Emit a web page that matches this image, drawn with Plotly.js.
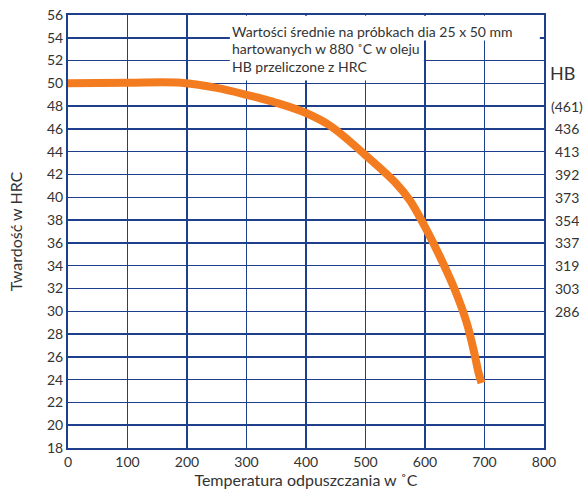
<!DOCTYPE html>
<html><head><meta charset="utf-8">
<script src="https://cdn.plot.ly/plotly-3.0.1.min.js"></script>
<style>html,body{margin:0;padding:0;background:#fff}#chart{width:583px;height:491px}</style>
</head><body><div id="chart"></div>
<script>
const temperature = [0, 100, 190, 250, 300, 350, 400, 440, 500, 550, 575, 600, 625, 650, 670, 683, 690, 695];
const hardnessHRC = [50.0, 50.05, 50.05, 49.6, 49.0, 48.3, 47.4, 46.3, 43.7, 41.3, 39.7, 37.4, 34.8, 31.9, 29.0, 26.3, 24.6, 23.7];
const hbTickHRC = [48, 46, 44, 42, 40, 38, 36, 34, 32, 30];
const hbTickText = ['(461)', '436', '413', '392', '373', '354', '337', '319', '303', '286'];
const noteLines = ['Wartości średnie na próbkach dia 25 x 50 mm', 'hartowanych w 880 ˚C w oleju', 'HB przeliczone z HRC'];

const gridColor = '#1d3f8c';
const textColor = '#333333';
const font = 'Lato, "Open Sans", sans-serif';

const annotations = hbTickHRC.map((v, i) => ({
  x: 1.0477, y: v, xref: 'paper', yref: 'y', text: hbTickText[i], showarrow: false,
  xanchor: 'center', yanchor: 'middle', font: {family: font, size: 14, color: textColor}
}));
annotations.push({x: 1.039, y: 50.95, xref: 'paper', yref: 'y', text: 'HB', showarrow: false,
  xanchor: 'center', yanchor: 'middle', font: {family: font, size: 18, color: textColor}});
noteLines.forEach((t, i) => annotations.push({
  x: 273, y: 54.55 - i * 1.52, xref: 'x', yref: 'y', text: t, showarrow: false,
  xanchor: 'left', yanchor: 'middle', font: {family: font, size: 14, color: textColor}
}));

const data = [{
  x: temperature, y: hardnessHRC, type: 'scatter', mode: 'lines',
  line: {color: '#f47c20', width: 8, shape: 'spline', smoothing: 1},
  hoverinfo: 'skip'
}];

const layout = {
  width: 583, height: 491,
  margin: {l: 68, r: 38.7, t: 14.5, b: 43.3},
  paper_bgcolor: '#fff', plot_bgcolor: '#fff',
  showlegend: false,
  xaxis: {
    range: [0, 800], tickvals: [0,100,200,300,400,500,600,700,800], ticks: '',
    showgrid: true, gridcolor: gridColor, gridwidth: 1.5, zeroline: false,
    showline: true, linecolor: gridColor, linewidth: 2, mirror: true,
    tickfont: {family: font, size: 14, color: textColor},
    title: {text: 'Temperatura odpuszczania w ˚C', font: {family: font, size: 16, color: textColor}, standoff: 5}
  },
  yaxis: {
    range: [18, 56], dtick: 2, tick0: 18, ticks: '',
    showgrid: true, gridcolor: gridColor, gridwidth: 1.5, zeroline: false,
    showline: true, linecolor: gridColor, linewidth: 2, mirror: true,
    tickfont: {family: font, size: 14, color: textColor},
    title: {text: 'Twardość w HRC', font: {family: font, size: 16, color: textColor}, standoff: 20}
  },
  shapes: [
    {type: 'rect', xref: 'x', yref: 'y', x0: 272, x1: 793, y0: 53.76, y1: 55.93, layer: 'between', fillcolor: '#fff', line: {width: 0}},
    {type: 'rect', xref: 'x', yref: 'y', x0: 272, x1: 598, y0: 50.25, y1: 53.8, layer: 'between', fillcolor: '#fff', line: {width: 0}}
  ],
  annotations: annotations
};

Plotly.newPlot('chart', data, layout, {displayModeBar: false, staticPlot: true});
</script></body></html>
